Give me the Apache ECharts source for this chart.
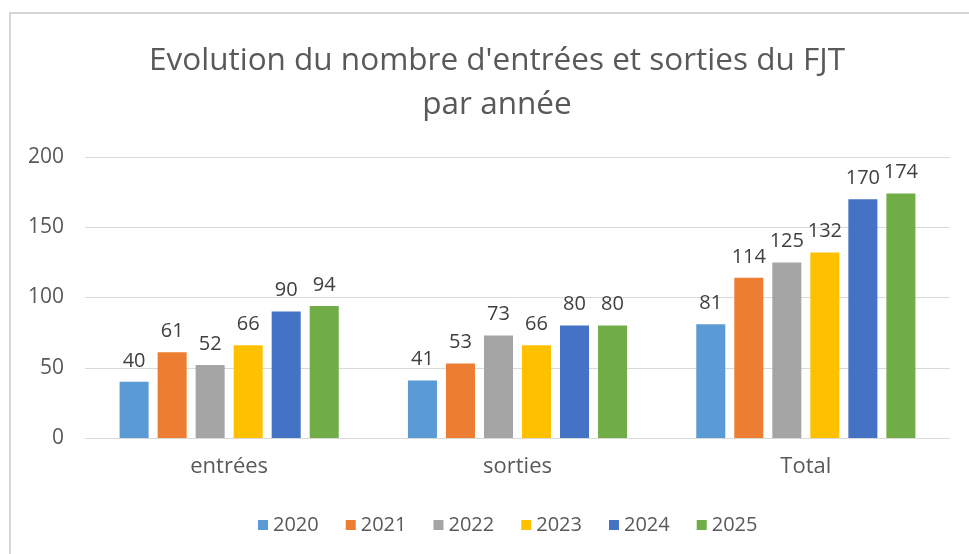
<!DOCTYPE html>
<html>
<head>
<meta charset="utf-8">
<script src="https://cdn.jsdelivr.net/npm/echarts@6/dist/echarts.min.js"></script>
<style>
  html, body { margin: 0; padding: 0; background: #fff; }
  #frame { position: absolute; left: 9px; top: 12px; width: 980px; height: 560px;
           border-left: 2px solid #d6d6d6; border-top: 2px solid #d6d6d6; }
  #chart { position: absolute; left: 0; top: 0; width: 969px; height: 554px; }
</style>
</head>
<body>
<div id="frame"></div>
<div id="chart"></div>
<script>
const categories = ['entrées', 'sorties', 'Total']
const years = ['2020', '2021', '2022', '2023', '2024', '2025']
const values2020 = [40, 41, 81]
const values2021 = [61, 53, 114]
const values2022 = [52, 73, 125]
const values2023 = [66, 66, 132]
const values2024 = [90, 80, 170]
const values2025 = [94, 80, 174]
const colors = ['#5B9BD5', '#ED7D31', '#A5A5A5', '#FFC000', '#4472C4', '#70AD47']

const allValues = [values2020, values2021, values2022, values2023, values2024, values2025]
const font = 'Open Sans, Liberation Sans, sans-serif'

const chart = echarts.init(document.getElementById('chart'))
chart.setOption({
  animation: false,
  color: colors,
  title: {
    text: "Evolution du nombre d'entrées et sorties du FJT\npar année",
    left: 492,
    top: 34,
    textAlign: 'center',
    textStyle: {
      fontFamily: font,
      fontSize: 31.5,
      fontWeight: 'normal',
      color: '#595959',
      lineHeight: 44
    }
  },
  legend: {
    top: 510,
    left: 253,
    itemWidth: 10,
    itemHeight: 10,
    itemGap: 27,
    icon: 'rect',
    textStyle: { fontFamily: font, fontSize: 20, color: '#595959' },
    data: years
  },
  grid: {
    left: 85,
    right: 19,
    top: 157,
    bottom: 116
  },
  xAxis: {
    type: 'category',
    data: categories,
    axisTick: { show: false },
    axisLine: { lineStyle: { color: '#d9d9d9', width: 1 } },
    axisLabel: { fontFamily: font, fontSize: 22, color: '#595959', margin: 18 }
  },
  yAxis: {
    type: 'value',
    min: 0,
    max: 200,
    interval: 50,
    axisLine: { show: false },
    axisTick: { show: false },
    splitLine: { lineStyle: { color: '#d9d9d9', width: 1 } },
    axisLabel: { fontFamily: font, fontSize: 21, color: '#595959', margin: 21 }
  },
  series: years.map((y, i) => ({
    name: y,
    type: 'bar',
    data: allValues[i],
    barGap: '31%',
    barCategoryGap: '24%',
    label: {
      show: true,
      position: 'top',
      distance: 11,
      fontFamily: font,
      fontSize: 20,
      color: '#404040'
    }
  }))
})
</script>
</body>
</html>
